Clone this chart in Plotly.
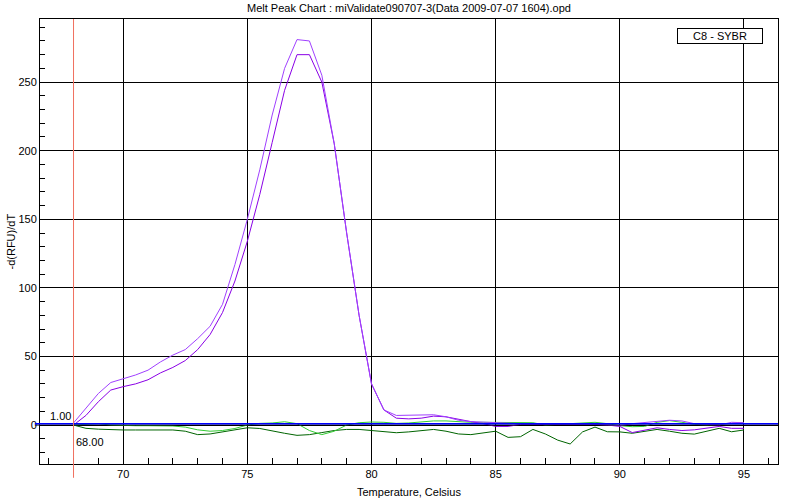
import plotly.graph_objects as go

temps = [68.0 + 0.5 * i for i in range(55)]

purple_a = [1.5, 12, 23, 31, 33.5, 36.5, 40, 46, 51, 55, 63, 72, 88, 117, 150, 186, 226, 260, 281, 280,
            255, 205, 140, 80, 30, 11, 7, 7, 7.5, 7.5, 6, 3.5, 2.5, 2, 2, 1.5, 1, 1, 1, 0.5,
            1, 1, 0.5, 0, -0.5, 1, 2, 3, 3.5, 3, 1, 0.5, 0, 2, 1.7]
purple_b = [0, 7, 17, 25.5, 28, 30, 33, 38, 42, 47, 55, 66, 82, 105, 134, 168, 206, 244, 270, 270,
            250, 205, 140, 80, 30, 11, 5, 4.5, 5, 6.5, 6, 4, 2.5, 1, -1, -1, 0.5, 0.5, 0.5, 0.5,
            1, 0.5, 0.5, 0, -1, -5.5, -3.5, -2, -3.2, -4, -3.5, -2.5, -1, -2.4, -2.4]
light_green = [0, 0.5, 1, 0, -0.5, -0.5, -0.5, -0.7, -0.7, -1.5, -3.5, -4.5, -4, -2.5, 0, 1.2, 1.5, 2.4, 1, -4,
               -7, -4.5, 0, 1.7, 2.2, 2, 1.2, 1.5, 2.2, 3, 3, 2.4, 2, 2, 2, 2, 2, 1.7, 0, 0.5,
               1.5, 2, 2, 1, -0.5, -1.2, -1, 2, 3.2, 2, 0.5, 0, 0.5, 1.2, 1.7]
dark_green = [0, -2.4, -3, -3.4, -3.6, -3.6, -3.6, -3.2, -3.6, -4.5, -7, -6.5, -5, -3, -2, -2.5, -4.5, -6, -7.5, -7,
              -5.5, -4, -3.2, -3.2, -4, -4.8, -5.6, -5, -4, -3.2, -4.5, -6.5, -7, -5.5, -4.5, -9, -8.5, -3.2, -6.5, -11,
              -13.8, -5, -1.5, -4.9, -5, -6, -4.5, -3.2, -4.5, -6, -6.6, -4.5, -2.4, -4.9, -3.6]

threshold_value = 1.0
cursor_temp = 68.0

x_range = [66.65, 96.37]
y_range = [-28.4, 296]

title_text = "Melt Peak Chart : miValidate090707-3(Data 2009-07-07 1604).opd"
legend_text = "C8 - SYBR"

FONT = "Liberation Sans, Arial, sans-serif"

fig = go.Figure()
for vals, col in [(dark_green, "#006400"), (light_green, "#33cc33"),
                  (purple_b, "#8a00e6"), (purple_a, "#a040ff")]:
    fig.add_trace(go.Scatter(x=temps, y=vals, mode="lines",
                             line=dict(color=col, width=1), showlegend=False,
                             hoverinfo="skip"))

shapes = [
    dict(type="line", xref="paper", yref="y", x0=-0.007, x1=1, y0=0, y1=0,
         line=dict(color="black", width=1), layer="above"),
    dict(type="line", xref="paper", yref="y", x0=-0.007, x1=1, y0=threshold_value, y1=threshold_value,
         line=dict(color="#0000ff", width=1.5), layer="above"),
    dict(type="line", xref="x", yref="paper", x0=cursor_temp, x1=cursor_temp, y0=-0.031, y1=1,
         line=dict(color="#f07060", width=1), layer="above"),
]

annotations = [
    dict(text=title_text, xref="paper", yref="paper", x=0.5, y=1, yshift=11,
         xanchor="center", yanchor="middle", showarrow=False,
         font=dict(family=FONT, size=11, color="black")),
    dict(text=legend_text, xref="paper", yref="paper", x=0.9216, y=0.9617,
         xanchor="center", yanchor="middle", showarrow=False,
         font=dict(family=FONT, size=11, color="black"),
         bgcolor="white", bordercolor="black", borderwidth=1, width=82, height=12),
    dict(text="%.2f" % threshold_value, xref="x", yref="y", x=cursor_temp, y=threshold_value,
         xanchor="right", yanchor="bottom", xshift=-1, showarrow=False,
         font=dict(family=FONT, size=11, color="black")),
    dict(text="%.2f" % cursor_temp, xref="x", yref="y", x=cursor_temp, y=0,
         xanchor="left", yanchor="top", yshift=-9, showarrow=False,
         font=dict(family=FONT, size=11, color="black")),
    dict(text="-d(RFU)/dT", xref="paper", yref="paper", x=0, y=0.5, xshift=-30,
         textangle=-90, xanchor="center", yanchor="middle", showarrow=False,
         font=dict(family=FONT, size=11, color="black")),
    dict(text="Temperature, Celsius", xref="paper", yref="paper", x=0.5, y=0, yshift=-28,
         xanchor="center", yanchor="middle", showarrow=False,
         font=dict(family=FONT, size=11, color="black")),
]

fig.update_layout(
    width=800, height=500,
    margin=dict(l=40, r=22, t=19, b=36),
    plot_bgcolor="white", paper_bgcolor="white",
    font=dict(family=FONT, size=11, color="black"),
    shapes=shapes, annotations=annotations,
    xaxis=dict(range=x_range, dtick=5, tick0=70, showgrid=True, gridcolor="black", gridwidth=1,
               ticks="inside", ticklen=6, tickcolor="black", zeroline=False, automargin=False,
               showline=True, linecolor="black", linewidth=1, mirror=True,
               minor=dict(dtick=1, tick0=70, ticks="inside", ticklen=6, tickcolor="black", showgrid=False),
               tickfont=dict(family=FONT, size=11, color="black")),
    yaxis=dict(range=y_range, dtick=50, tick0=0, showgrid=True, gridcolor="black", gridwidth=1,
               ticks="inside", ticklen=5, tickcolor="black", zeroline=False, automargin=False,
               showline=True, linecolor="black", linewidth=1, mirror=True,
               minor=dict(dtick=10, tick0=0, ticks="inside", ticklen=5, tickcolor="black", showgrid=False),
               tickfont=dict(family=FONT, size=11, color="black")),
)

fig.write_html("out.html", config={"displayModeBar": False},
               post_script="document.body.style.margin='0';")
